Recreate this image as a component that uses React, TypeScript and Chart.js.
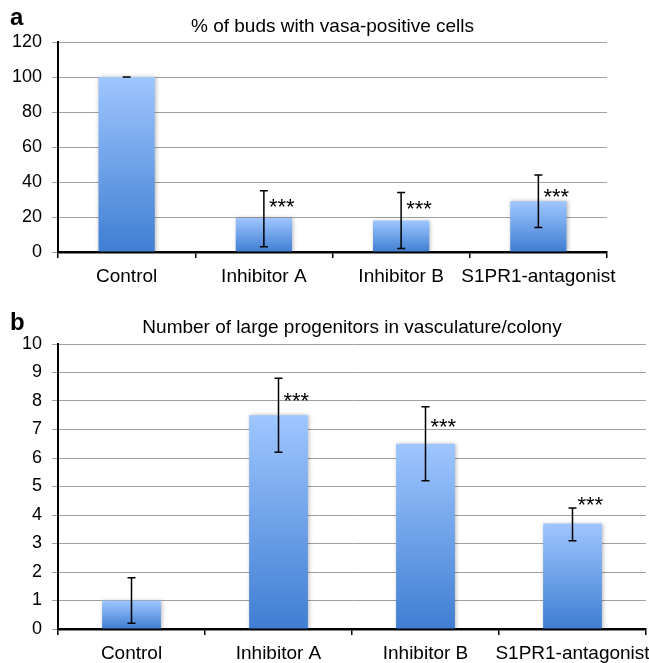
import React, { useEffect, useRef } from "react";
import { Chart, registerables } from "chart.js";
Chart.register(...registerables);

const FONT = "'Liberation Sans', Arial, Helvetica, sans-serif";

const categories = ["Control", "Inhibitor A", "Inhibitor B", "S1PR1-antagonist"];

// Panel a
const budsTitle = "% of buds with vasa-positive cells";
const budsValues = [100, 19.5, 18, 29];
const budsErrLow = [100, 3, 2, 14];
const budsErrHigh = [100, 35, 34, 44];
const budsStars = ["", "***", "***", "***"];
const budsStarLevel = [0, 28.7, 27.5, 34.4];
const budsMax = 120;
const budsStep = 20;

// Panel b
const progTitle = "Number of large progenitors in vasculature/colony";
const progValues = [1, 7.5, 6.5, 3.7];
const progErrLow = [0.2, 6.2, 5.2, 3.1];
const progErrHigh = [1.8, 8.8, 7.8, 4.25];
const progStars = ["", "***", "***", "***"];
const progStarLevel = [0, 8.17, 7.27, 4.51];
const progMax = 10;
const progStep = 1;

type PanelProps = {
  title: string;
  values: number[];
  errLow: number[];
  errHigh: number[];
  stars: string[];
  starLevel: number[];
  max: number;
  step: number;
  width: number;
  height: number;
  rightPad: number;
  axisHeight: number;
  titleTop: number;
  titleBottom: number;
  barPct: number;
};

function Panel(p: PanelProps) {
  const ref = useRef<HTMLCanvasElement | null>(null);
  useEffect(() => {
    if (!ref.current) return;
    const errorPlugin = {
      id: "errs",
      beforeDatasetsDraw(chart: any) {
        const ctx = chart.ctx;
        ctx.save();
        ctx.shadowColor = "rgba(0,0,0,0.28)";
        ctx.shadowBlur = 4;
        ctx.shadowOffsetX = 1;
        ctx.shadowOffsetY = 0;
      },
      afterDatasetsDraw(chart: any) {
        const ctx = chart.ctx;
        ctx.restore();
        const meta = chart.getDatasetMeta(0);
        const ys = chart.scales.y;
        ctx.save();
        ctx.strokeStyle = "#000";
        ctx.lineWidth = 1.5;
        for (let i = 0; i < p.values.length; i++) {
          const x = meta.data[i].x;
          const yl = ys.getPixelForValue(p.errLow[i]);
          const yh = ys.getPixelForValue(p.errHigh[i]);
          ctx.beginPath();
          ctx.moveTo(x, yl);
          ctx.lineTo(x, yh);
          ctx.moveTo(x - 4, yl);
          ctx.lineTo(x + 4, yl);
          ctx.moveTo(x - 4, yh);
          ctx.lineTo(x + 4, yh);
          ctx.stroke();
          if (p.stars[i]) {
            ctx.fillStyle = "#000";
            ctx.font = `22px ${FONT}`;
            ctx.textAlign = "left";
            ctx.textBaseline = "alphabetic";
            ctx.fillText(p.stars[i], x + 5, ys.getPixelForValue(p.starLevel[i]) + 12);
          }
        }
        ctx.restore();
      },
    };
    const chart = new Chart(ref.current, {
      type: "bar",
      data: {
        labels: categories,
        datasets: [
          {
            data: p.values,
            barPercentage: p.barPct,
            categoryPercentage: 1,
            backgroundColor: (c: any) => {
              const ch = c.chart;
              if (!ch.chartArea || c.type !== "data") return "#7aa7e8";
              const v = p.values[c.dataIndex];
              const y0 = ch.scales.y.getPixelForValue(v);
              const y1 = ch.scales.y.getPixelForValue(0);
              const g = ch.ctx.createLinearGradient(0, y0, 0, y1);
              g.addColorStop(0, "#9fc6ff");
              g.addColorStop(1, "#3f7ed2");
              return g;
            },
            borderWidth: 0,
          },
        ],
      },
      options: {
        animation: false,
        responsive: false,
        events: [],
        layout: { padding: { left: 0, right: p.rightPad, top: 0, bottom: 0 } },
        plugins: {
          legend: { display: false },
          tooltip: { enabled: false },
          title: {
            display: true,
            text: p.title,
            fullSize: false,
            color: "#000",
            font: { family: FONT, size: 19, weight: "normal" },
            padding: { top: p.titleTop, bottom: p.titleBottom },
          },
        },
        scales: {
          x: {
            grid: {
              display: true,
              drawOnChartArea: false,
              offset: true,
              tickLength: 6,
              color: "#000",
              lineWidth: 1.5,
            },
            border: { color: "#000", width: 2.5 },
            ticks: { color: "#000", font: { family: FONT, size: 19 }, padding: 7, maxRotation: 0, autoSkip: false },
            afterFit: (s: any) => {
              s.height = p.axisHeight;
              s.paddingLeft = 0;
              s.paddingRight = 0;
            },
          },
          y: {
            min: 0,
            max: p.max,
            ticks: { stepSize: p.step, color: "#000", font: { family: FONT, size: 18 }, padding: 10 },
            grid: { color: "#a0a0a0", lineWidth: 1, tickLength: 6 },
            border: { color: "#000", width: 2 },
            afterFit: (s: any) => {
              s.width = 58;
              s.paddingTop = 0;
              s.paddingBottom = 0;
            },
          },
        },
      },
      plugins: [errorPlugin],
    } as any);
    return () => chart.destroy();
  }, []);
  return <canvas ref={ref} width={p.width} height={p.height} style={{ display: "block" }} />;
}

export default function App() {
  const label = (t: string, top: number): React.ReactNode => (
    <div
      style={{
        position: "absolute",
        left: 10,
        top,
        fontFamily: FONT,
        fontWeight: "bold",
        fontSize: 24,
        lineHeight: 1,
        color: "#000",
      }}
    >
      {t}
    </div>
  );
  return (
    <div style={{ position: "fixed", left: 0, top: 0, width: 649, height: 663, background: "#fff" }}>
      <div style={{ position: "absolute", left: 0, top: 0 }}>
        <Panel
          title={budsTitle}
          values={budsValues}
          errLow={budsErrLow}
          errHigh={budsErrHigh}
          stars={budsStars}
          starLevel={budsStarLevel}
          max={budsMax}
          step={budsStep}
          width={649}
          height={300}
          rightPad={42}
          axisHeight={48}
          titleTop={15}
          titleBottom={4.2}
          barPct={0.41}
        />
      </div>
      <div style={{ position: "absolute", left: 0, top: 300 }}>
        <Panel
          title={progTitle}
          values={progValues}
          errLow={progErrLow}
          errHigh={progErrHigh}
          stars={progStars}
          starLevel={progStarLevel}
          max={progMax}
          step={progStep}
          width={649}
          height={363}
          rightPad={3}
          axisHeight={34}
          titleTop={16.6}
          titleBottom={4.6}
          barPct={0.4}
        />
      </div>
      {label("a", 5)}
      {label("b", 310)}
    </div>
  );
}
